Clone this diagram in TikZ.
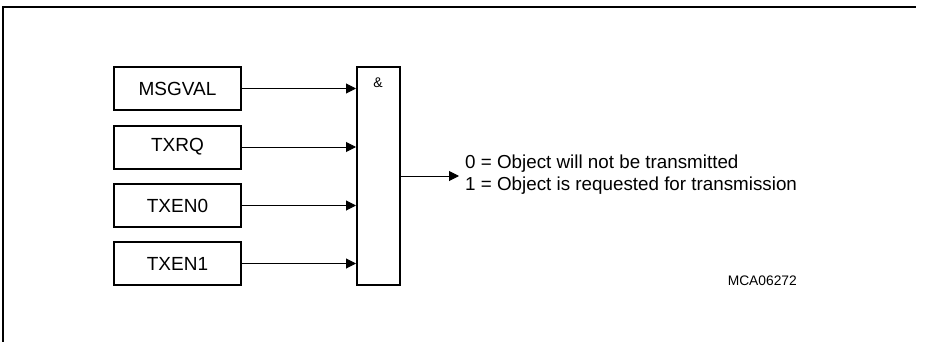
\documentclass[tikz,border=0pt]{standalone}
\usepackage{fontspec}
\setmainfont{Liberation Sans}
\usetikzlibrary{arrows.meta}
\begin{document}
\begin{tikzpicture}[x=1pt,y=-1pt,
  inbox/.style={draw,line width=2pt,minimum width=127pt,minimum height=43pt,inner sep=0pt,font=\fontsize{19}{22}\selectfont},
  conn/.style={line width=1pt,-{Triangle[length=10pt,width=10pt]}}]
\useasboundingbox (0,0) rectangle (925,342);
\draw[line width=1.3pt] (3,342) -- (3,7) -- (916,7);
\node[inbox] (msg) at (177.5,88.5) {MSGVAL};
\node[inbox] (txrq) at (177.5,147) {TXRQ};
\node[inbox] (txen0) at (177.5,205.5) {TXEN0};
\node[inbox] (txen1) at (177.5,263.5) {TXEN1};
\node[draw,line width=2pt,minimum width=43pt,minimum height=218pt,inner sep=0pt] (and) at (378.5,176) {};
\node[font=\fontsize{14}{16}\selectfont,anchor=north] (amp) at (378,74) {\&};
\draw[conn] (msg.east) -- (msg.east -| and.west);
\draw[conn] (txrq.east) -- (txrq.east -| and.west);
\draw[conn] (txen0.east) -- (txen0.east -| and.west);
\draw[conn] (txen1.east) -- (txen1.east -| and.west);
\coordinate (out) at (459,176);
\draw[conn] (and.east |- out) -- (out);
\node[anchor=west,align=left,inner sep=0pt,font=\fontsize{18.8}{22}\selectfont] (txt) at (465,175) {0 = Object will not be transmitted\\1 = Object is requested for transmission};
\node[anchor=east,inner sep=0pt,font=\fontsize{13.8}{16}\selectfont] (id) at (797,281) {MCA06272};
\end{tikzpicture}
\end{document}
